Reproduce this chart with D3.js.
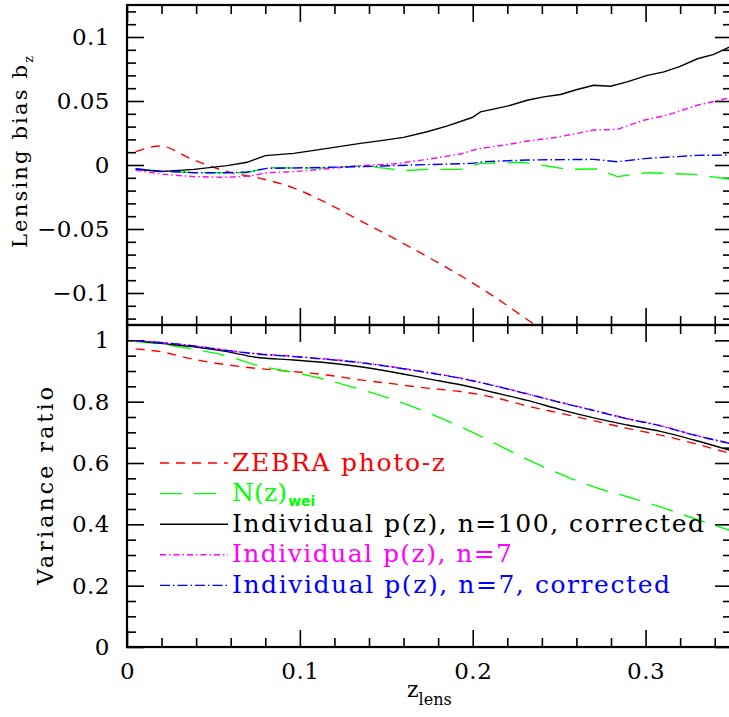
<!DOCTYPE html>
<html>
<head>
<meta charset="utf-8">
<script src="https://cdn.jsdelivr.net/npm/d3@7"></script>
<style>
  body { margin: 0; background: #fff; }
  svg { display: block; }
  text { font-family: "DejaVu Serif", serif; }
</style>
</head>
<body>
<div id="chart"></div>
<script>
// tick labels
const xTicks = [0, 0.1, 0.2, 0.3];
const xTickLabels = ['0', '0.1', '0.2', '0.3'];
const biasTicks = [-0.1, -0.05, 0, 0.05, 0.1];
const biasTickLabels = ['\u22120.1', '\u22120.05', '0', '0.05', '0.1'];
const varTicks = [0, 0.2, 0.4, 0.6, 0.8, 1];
const varTickLabels = ['0', '0.2', '0.4', '0.6', '0.8', '1'];

// top panel: lensing bias b_z vs z_lens
const zebraBiasZ = [0.005, 0.019, 0.0386, 0.058, 0.077, 0.0965, 0.116, 0.135, 0.154, 0.1736, 0.193, 0.212, 0.2334, 0.25];
const zebraBias = [0.0104, 0.0148, 0.0039, -0.0052, -0.0104, -0.018, -0.03, -0.0435, -0.057, -0.0715, -0.0865, -0.1025, -0.1225, -0.138];

const nzBiasZ = [0.005, 0.019, 0.0386, 0.058, 0.0694, 0.081, 0.0965, 0.116, 0.135, 0.15, 0.16, 0.1736, 0.193, 0.2045, 0.229, 0.2432, 0.2546, 0.272, 0.2836, 0.301, 0.328, 0.3484];
const nzBias = [-0.0031, -0.0047, -0.006, -0.006, -0.006, -0.0021, -0.0023, -0.0023, -0.0005, -0.0026, -0.0044, -0.0034, -0.0034, 0.0013, 0.0021, -0.0008, -0.0034, -0.0031, -0.0091, -0.006, -0.0073, -0.0109];

const n100BiasZ = [0.005, 0.019, 0.0386, 0.058, 0.0694, 0.08, 0.0965, 0.116, 0.135, 0.147, 0.16, 0.1736, 0.185, 0.1997, 0.2045, 0.22, 0.2315, 0.241, 0.2508, 0.2604, 0.27, 0.2797, 0.2893, 0.301, 0.3106, 0.32, 0.33, 0.3395, 0.3484];
const n100Bias = [-0.0031, -0.0052, -0.0034, -0.0005, 0.0021, 0.0073, 0.0091, 0.013, 0.0169, 0.019, 0.0216, 0.026, 0.0304, 0.0371, 0.0415, 0.046, 0.0506, 0.0532, 0.0551, 0.059, 0.0623, 0.0615, 0.0649, 0.07, 0.0727, 0.077, 0.083, 0.0864, 0.092];

const n7BiasZ = [0.005, 0.019, 0.0386, 0.058, 0.0714, 0.081, 0.0965, 0.116, 0.135, 0.154, 0.1736, 0.193, 0.2027, 0.222, 0.2315, 0.2469, 0.2604, 0.27, 0.2836, 0.299, 0.3125, 0.33, 0.3484];
const n7Bias = [-0.0039, -0.007, -0.0091, -0.0096, -0.0086, -0.006, -0.0052, -0.0029, -0.0005, 0.0008, 0.0044, 0.0086, 0.0125, 0.0164, 0.0187, 0.0213, 0.0247, 0.0273, 0.0278, 0.035, 0.039, 0.0467, 0.0524];

const n7cBiasZ = [0.005, 0.019, 0.0386, 0.058, 0.0694, 0.081, 0.0965, 0.116, 0.135, 0.154, 0.1736, 0.1997, 0.2065, 0.2315, 0.27, 0.2836, 0.301, 0.33, 0.3484];
const n7cBias = [-0.0031, -0.0047, -0.006, -0.006, -0.0055, -0.0026, -0.0023, -0.0018, -0.0013, -0.0005, 0.0003, 0.0013, 0.0026, 0.0039, 0.0044, 0.0026, 0.0052, 0.0075, 0.0078];

// bottom panel: variance ratio vs z_lens
const varZ = [0.005, 0.0193, 0.0386, 0.0579, 0.0743, 0.0965, 0.1157, 0.135, 0.1543, 0.1736, 0.193, 0.2122, 0.2315, 0.2508, 0.27, 0.2894, 0.3086, 0.328, 0.3484];
const zebraVar = [0.972, 0.963, 0.938, 0.92, 0.909, 0.898, 0.887, 0.871, 0.858, 0.844, 0.833, 0.814, 0.786, 0.762, 0.738, 0.713, 0.691, 0.664, 0.632];
const nzVar = [0.996, 0.988, 0.971, 0.949, 0.92, 0.895, 0.871, 0.84, 0.806, 0.765, 0.718, 0.666, 0.612, 0.564, 0.522, 0.49, 0.457, 0.419, 0.381];
const n100Var = [0.999, 0.99, 0.979, 0.963, 0.945, 0.936, 0.927, 0.914, 0.896, 0.875, 0.855, 0.83, 0.804, 0.774, 0.747, 0.724, 0.703, 0.675, 0.642];
const n7Var = [0.999, 0.993, 0.982, 0.967, 0.957, 0.948, 0.939, 0.928, 0.913, 0.896, 0.877, 0.853, 0.826, 0.798, 0.772, 0.745, 0.722, 0.692, 0.665];
const n7cVar = [0.999, 0.993, 0.982, 0.967, 0.956, 0.947, 0.938, 0.927, 0.912, 0.895, 0.876, 0.852, 0.825, 0.797, 0.771, 0.744, 0.721, 0.691, 0.664];

const W = 729, H = 717;
const LEFT = 127, RIGHT = 732;
const TOP = 5, MID = 325, BOTTOM = 647;
const MAJOR = 17, MINOR = 9;
const SERIF = '"DejaVu Serif", serif';

const series = [
  { name: 'ZEBRA photo-z', color: '#ff0000', dash: '9,7', bias: [zebraBiasZ, zebraBias], variance: zebraVar, smooth: true },
  { name: 'N(z)', sub: 'wei', color: '#00ff00', dash: '22,12', bias: [nzBiasZ, nzBias], variance: nzVar },
  { name: 'Individual p(z), n=100, corrected', color: '#000000', dash: null, bias: [n100BiasZ, n100Bias], variance: n100Var },
  { name: 'Individual p(z), n=7', color: '#ff00ff', dash: '6,3,1.5,3', bias: [n7BiasZ, n7Bias], variance: n7Var },
  { name: 'Individual p(z), n=7, corrected', color: '#0000ff', dash: '10,3,1.5,3', bias: [n7cBiasZ, n7cBias], variance: n7cVar },
];
const legendWidths = [213, 55, 472, 280, 438];

const svg = d3.select('#chart').append('svg').attr('width', W).attr('height', H);

const x = d3.scaleLinear().domain([0, 0.35]).range([LEFT, RIGHT]);
const yBias = d3.scaleLinear().domain([-0.125, 0.125]).range([MID, TOP]);
const yVar = d3.scaleLinear().domain([0, 1.05]).range([BOTTOM, MID]);

const xMinor = d3.range(0.02, 0.35, 0.02).filter((v) => Math.abs(v * 10 - Math.round(v * 10)) > 1e-6);
const biasMinor = d3.range(-0.12, 0.125, 0.01).filter((v) => Math.abs(v * 20 - Math.round(v * 20)) > 1e-6);
const varMinor = d3.range(0.05, 1.05, 0.05).filter((v) => Math.abs(v * 5 - Math.round(v * 5)) > 1e-6);

const defs = svg.append('defs');
defs.append('clipPath').attr('id', 'clip-top').append('rect')
  .attr('x', LEFT).attr('y', TOP).attr('width', RIGHT - LEFT).attr('height', MID - TOP);
defs.append('clipPath').attr('id', 'clip-bottom').append('rect')
  .attr('x', LEFT).attr('y', MID).attr('width', RIGHT - LEFT).attr('height', BOTTOM - MID);

const tickStyle = (g) => {
  g.select('.domain').remove();
  g.attr('font-family', null).attr('font-size', null);
  g.selectAll('.tick line').attr('stroke', '#000').attr('stroke-width', 1.6);
  g.selectAll('.tick text').style('font-family', SERIF).style('font-size', '23px')
    .style('letter-spacing', '0.5px').attr('fill', '#000');
};

// inward ticks on all four sides of a panel
const drawTicks = (y, top, bottom, yMajor, yMinor) => {
  const put = (axis, values, size, transform) => {
    svg.append('g').attr('transform', transform)
      .call(axis.tickValues(values).tickSize(-size).tickFormat(''))
      .call(tickStyle);
  };
  put(d3.axisLeft(y), yMajor, MAJOR, `translate(${LEFT},0)`);
  put(d3.axisLeft(y), yMinor, MINOR, `translate(${LEFT},0)`);
  put(d3.axisRight(y), yMajor, MAJOR, `translate(${RIGHT},0)`);
  put(d3.axisRight(y), yMinor, MINOR, `translate(${RIGHT},0)`);
  put(d3.axisTop(x), xTicks, MAJOR, `translate(0,${top})`);
  put(d3.axisTop(x), xMinor, MINOR, `translate(0,${top})`);
  put(d3.axisBottom(x), xTicks, MAJOR, `translate(0,${bottom})`);
  put(d3.axisBottom(x), xMinor, MINOR, `translate(0,${bottom})`);
};

drawTicks(yBias, TOP, MID, biasTicks, biasMinor);
drawTicks(yVar, MID, BOTTOM, varTicks, varMinor);

// tick labels
svg.append('g').attr('transform', `translate(${LEFT},0)`)
  .call(d3.axisLeft(yBias).tickValues(biasTicks).tickSize(0).tickPadding(17)
    .tickFormat((d, i) => biasTickLabels[i]))
  .call(tickStyle);
svg.append('g').attr('transform', `translate(${LEFT},0)`)
  .call(d3.axisLeft(yVar).tickValues(varTicks).tickSize(0).tickPadding(17)
    .tickFormat((d, i) => varTickLabels[i]))
  .call(tickStyle);
svg.append('g').attr('transform', `translate(0,${BOTTOM})`)
  .call(d3.axisBottom(x).tickValues(xTicks).tickSize(0).tickPadding(16)
    .tickFormat((d, i) => xTickLabels[i]))
  .call(tickStyle);

// curves
const topGroup = svg.append('g').attr('clip-path', 'url(#clip-top)');
const bottomGroup = svg.append('g').attr('clip-path', 'url(#clip-bottom)');

series.forEach((s) => {
  const pts = s.bias[0].map((z, i) => [z, s.bias[1][i]]);
  const lineTop = d3.line().x((d) => x(d[0])).y((d) => yBias(d[1]))
    .curve(s.smooth ? d3.curveMonotoneX : d3.curveLinear);
  topGroup.append('path').datum(pts)
    .attr('fill', 'none').attr('stroke', s.color).attr('stroke-width', 1.4)
    .attr('stroke-dasharray', s.dash).attr('d', lineTop);

  const vpts = varZ.map((z, i) => [z, s.variance[i]]);
  const lineBottom = d3.line().x((d) => x(d[0])).y((d) => yVar(d[1])).curve(d3.curveMonotoneX);
  bottomGroup.append('path').datum(vpts)
    .attr('fill', 'none').attr('stroke', s.color).attr('stroke-width', 1.4)
    .attr('stroke-dasharray', s.dash).attr('d', lineBottom);
});

// frames
[[TOP, MID], [MID, BOTTOM]].forEach(([t, b]) => {
  svg.append('rect').attr('x', LEFT).attr('y', t).attr('width', RIGHT - LEFT).attr('height', b - t)
    .attr('fill', 'none').attr('stroke', '#000').attr('stroke-width', 2.2);
});

// legend
const legend = svg.append('g');
series.forEach((s, i) => {
  const ly = 463 + i * 30.6;
  legend.append('line').attr('x1', 160).attr('x2', 228).attr('y1', ly).attr('y2', ly)
    .attr('stroke', s.color).attr('stroke-width', 1.4).attr('stroke-dasharray', s.dash);
  const t = legend.append('text').attr('x', 232).attr('y', ly + 7.5)
    .attr('fill', s.color).style('font-family', SERIF).style('font-size', '25px');
  t.append('tspan').attr('textLength', legendWidths[i]).attr('lengthAdjust', 'spacing').text(s.name);
  if (s.sub) {
    t.append('tspan').attr('dy', 5).attr('dx', 1).style('font-size', '14px').style('font-weight', 'bold')
      .style('font-family', '"DejaVu Sans", sans-serif').text(s.sub);
  }
});

// axis titles
const yTitle1 = svg.append('text').attr('transform', `translate(27, 152) rotate(-90)`)
  .attr('text-anchor', 'middle').style('font-family', SERIF).style('font-size', '21px');
yTitle1.append('tspan').attr('textLength', 183).attr('lengthAdjust', 'spacing').text('Lensing bias b');
yTitle1.append('tspan').attr('dy', 6).style('font-size', '13px').text('z');

svg.append('text').attr('transform', `translate(53, 486) rotate(-90)`)
  .attr('text-anchor', 'middle').style('font-family', SERIF).style('font-size', '22px')
  .attr('textLength', 198).attr('lengthAdjust', 'spacing').text('Variance ratio');

const xTitle = svg.append('text').attr('x', 407).attr('y', 697).style('font-family', SERIF).style('font-size', '22px');
xTitle.append('tspan').text('z');
xTitle.append('tspan').attr('dy', 8).style('font-size', '16px').text('lens');
</script>
</body>
</html>
